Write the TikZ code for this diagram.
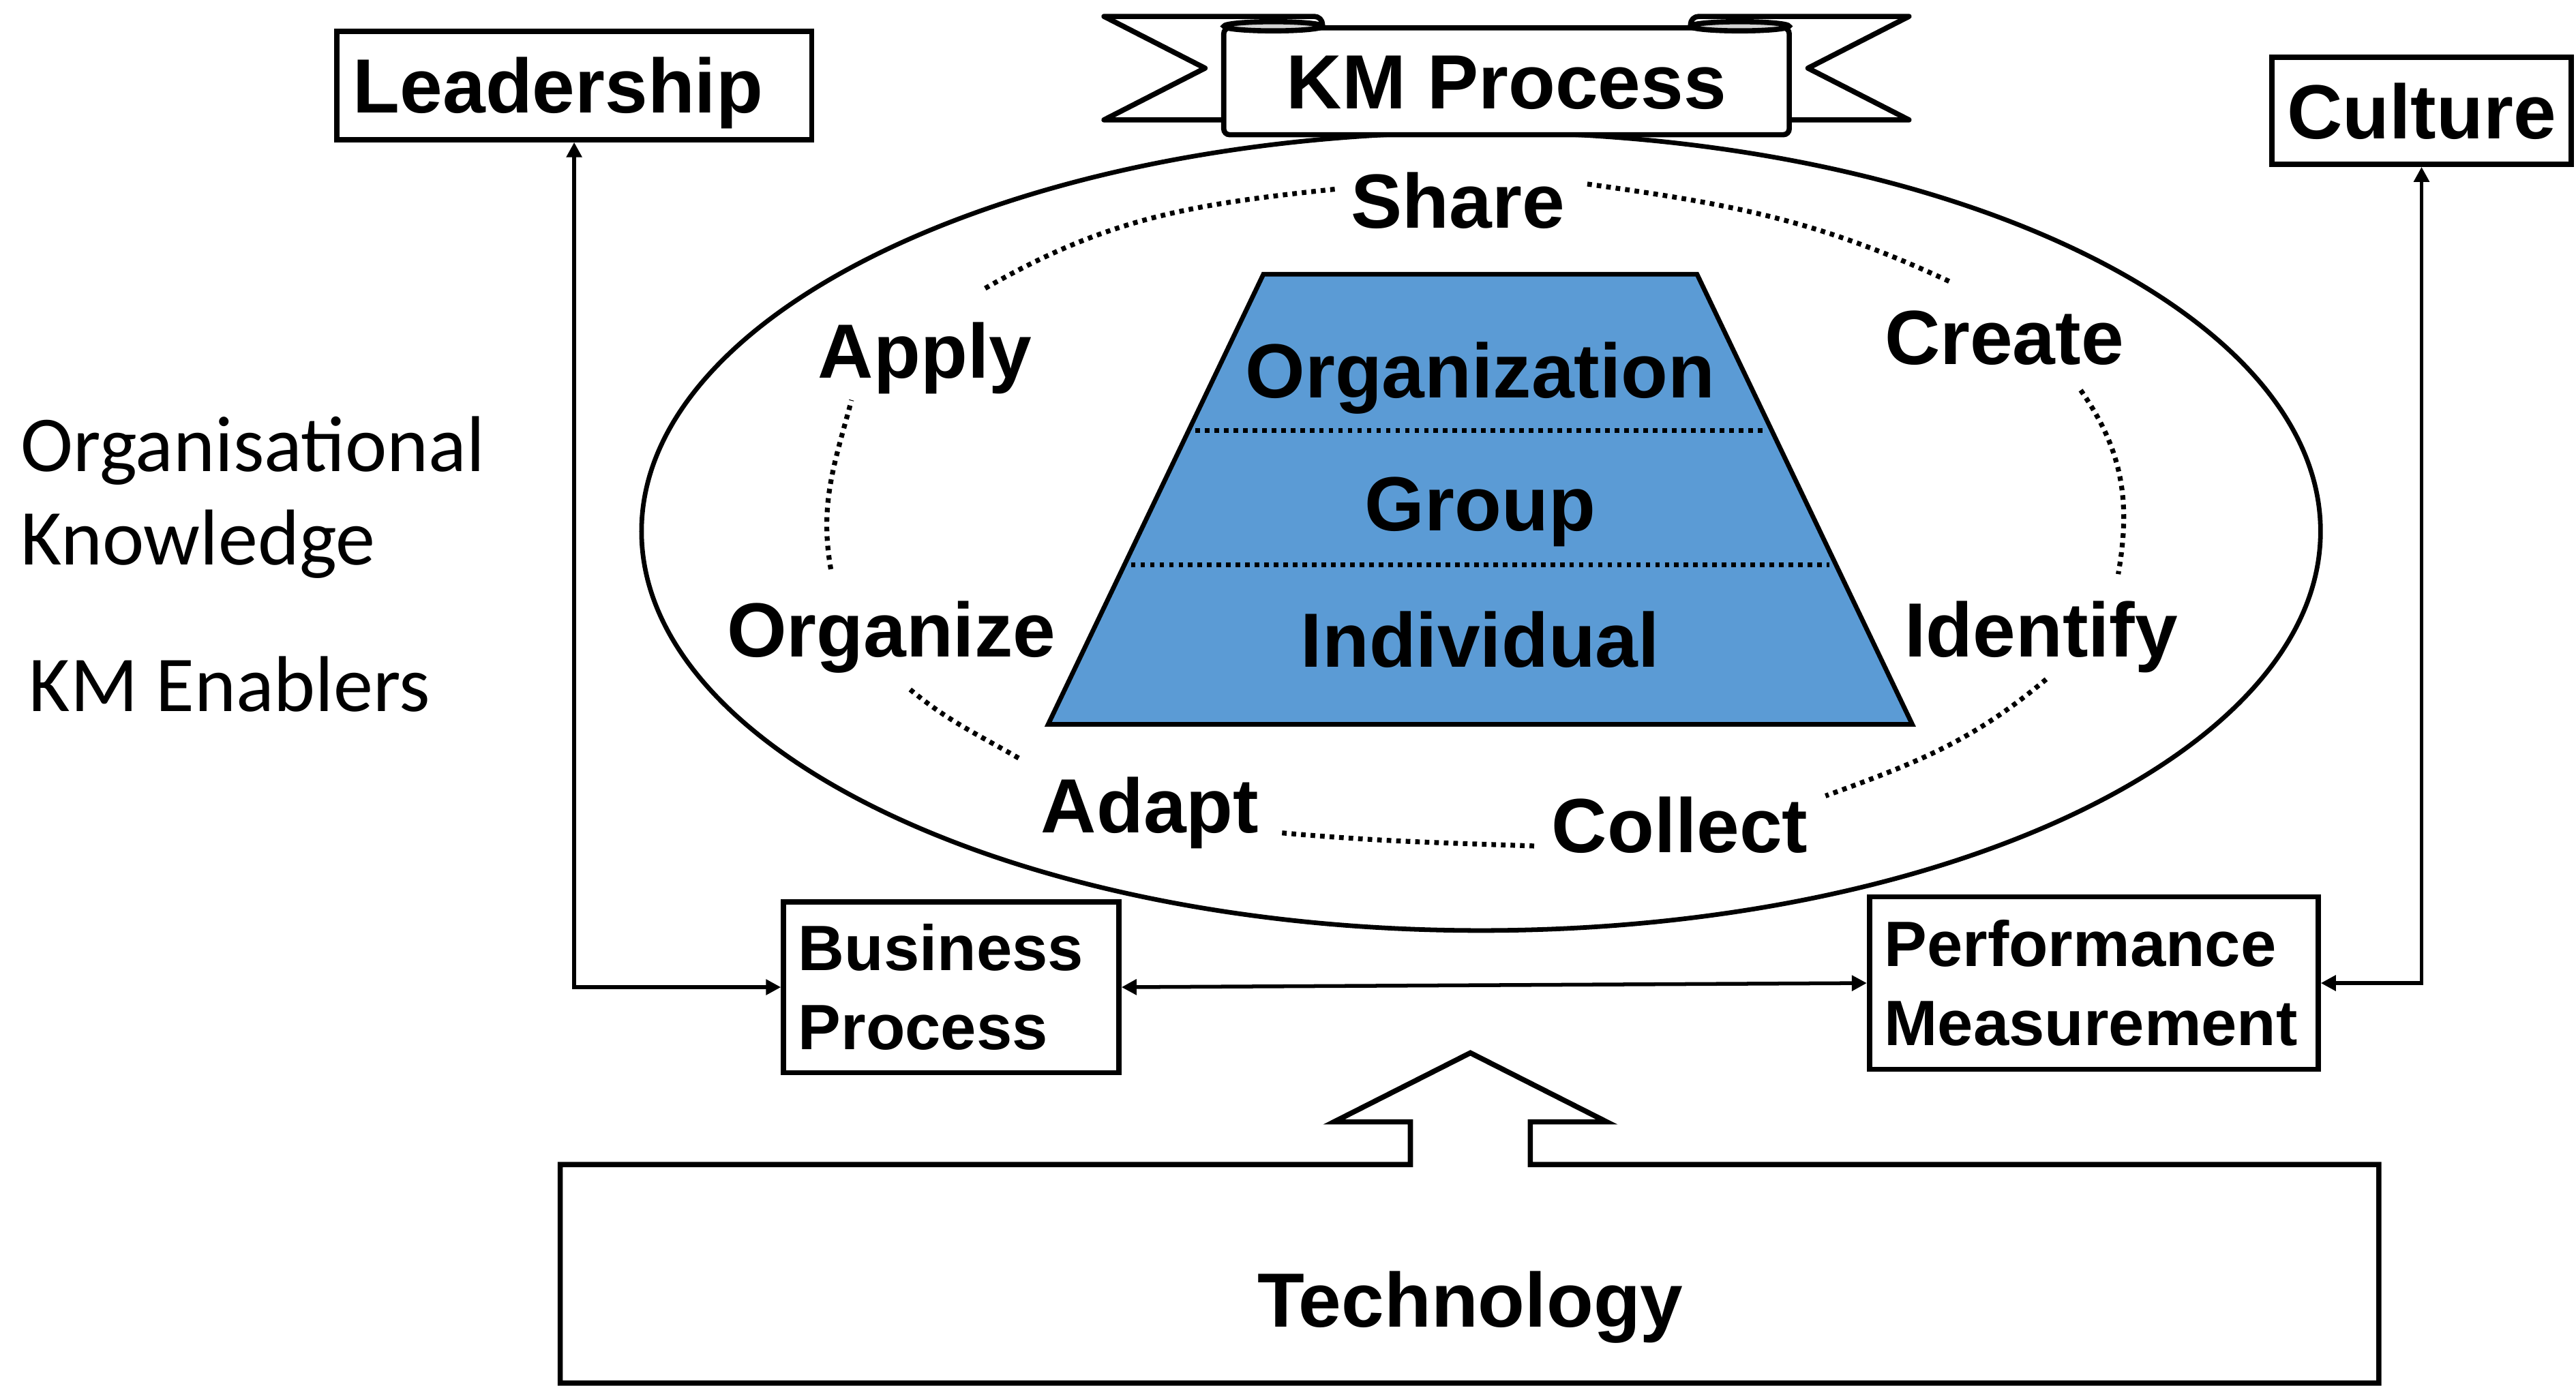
\documentclass[tikz,border=0pt]{standalone}
\usepackage{fontspec}
\setmainfont{Liberation Sans}
\newfontfamily\calibri{Carlito}
\usetikzlibrary{arrows.meta,calc}
\definecolor{kmblue}{HTML}{5B9BD5}
\tikzset{
  box/.style={draw, line width=0.9pt, fill=white, inner sep=0pt,
    font=\fontsize{13.3}{16}\selectfont\bfseries, text height=9.6pt, text depth=0pt},
  subbox/.style={draw, line width=0.9pt, inner xsep=0.09cm, inner ysep=0pt, align=left,
    font=\fontsize{11.1}{13.66}\selectfont\bfseries},
  stage/.style={inner sep=0pt, anchor=base, text height=9.6pt, text depth=2.8pt,
    font=\fontsize{13.3}{16}\selectfont\bfseries},
  note/.style={inner sep=0pt, align=left, font=\calibri\fontsize{13.7}{16.2}\selectfont},
  ring/.style={line width=0.85pt, dash pattern=on 0.8pt off 0.85pt},
  link/.style={line width=0.65pt, >={Triangle[length=2.6pt,width=2.6pt]}, <->}
}
\begin{document}
\begin{tikzpicture}[x=0.01cm,y=0.01cm]
  \path[use as bounding box] (0,0) rectangle (1568,845);

  \node[note, anchor=base west] (orgknow) at (12,501) {Organisational\\Knowledge};
  \node[note, anchor=base west] (enablers) at (17,412) {KM Enablers};

  % knowledge cycle
  \draw[line width=0.8pt] (901.5,521.5) ellipse [x radius=511, y radius=243];
  \coordinate (tl) at (769,678);
  \coordinate (tr) at (1033,678);
  \coordinate (br) at (1164,404);
  \coordinate (bl) at (638,404);
  \draw[line width=0.8pt, fill=kmblue] (tl) -- (tr) -- (br) -- (bl) -- cycle;
  \draw[ring] ($(bl)!0.653!(tl)+(4,0)$) -- ($(br)!0.653!(tr)-(4,0)$);
  \draw[ring] ($(bl)!0.354!(tl)+(4,0)$) -- ($(br)!0.354!(tr)-(4,0)$);
  \node[stage] (orglayer) at (901,603) {Organization};
  \node[stage] (grouplayer) at (901,522) {Group};
  \node[stage] (indlayer) at (901,439) {Individual};

  \node[stage] (share) at (887.5,706) {Share};
  \node[stage] (create) at (1220,623) {Create};
  \node[stage] (identify) at (1242.5,445) {Identify};
  \node[stage] (collect) at (1022.5,326) {Collect};
  \node[stage] (adapt) at (700,338) {Adapt};
  \node[stage] (organize) at (542.5,445) {Organize};
  \node[stage] (apply) at (563,615) {Apply};
  \draw[ring] ([shift={(-29,20)}]apply.north east) to[out=30,in=186] ([shift={(-8,12)}]share.west);
  \draw[ring] ([shift={(13,15)}]share.east) to[out=-8,in=155] ([shift={(-33,16)}]create.north);
  \draw[ring] ([shift={(-27,-5)}]create.south east) to[out=-55,in=80] ([shift={(-37,16)}]identify.north east);
  \draw[ring] ([shift={(3,-3)}]identify.south) to[out=-140,in=20] ([shift={(10,0)}]collect.north east);
  \draw[ring] ([shift={(-10,-8)}]collect.west) to[out=178,in=-5] ([shift={(13,-12)}]adapt.east);
  \draw[ring] ([shift={(-13,11)}]adapt.north west) to[out=150,in=-40] ([shift={(10,-8)}]organize.south);
  \draw[ring] ([shift={(64,19)}]organize.north west) to[out=100,in=-105] ([shift={(21,-3)}]apply.south west);

  % banner
  \draw[line width=0.9pt, fill=white, line join=round] (745,772) -- (672,772) -- (733.5,803.5)
    -- (672,835) -- (800,835) to[out=0,in=90] (805,830) -- (805,826);
  \draw[line width=0.9pt, fill=white, line join=round] (1089,772) -- (1162,772) -- (1100.5,803.5)
    -- (1162,835) -- (1034,835) to[out=180,in=90] (1029,830) -- (1029,826);
  \node[box, minimum width=3.44cm, minimum height=0.65cm, rounded corners=1pt] (kmp) at (917,795.5) {KM Process};
  \draw[line width=0.9pt, fill=gray!35] (775,829) ellipse [x radius=30, y radius=2.8];
  \draw[line width=0.9pt, fill=gray!35] (1059,829) ellipse [x radius=30, y radius=2.8];

  % enablers
  \node[box, minimum width=2.89cm, minimum height=0.66cm, text width=2.69cm, align=left] (lead) at (349.5,793) {Leadership};
  \node[box, minimum width=1.82cm, minimum height=0.65cm] (culture) at (1474,777.5) {Culture};
  \node[subbox, text width=1.86cm, minimum height=1.04cm] (bp) at (579,244) {Business\\Process};
  \node[subbox, text width=2.55cm, minimum height=1.05cm] (pm) at (1274.5,246.5) {Performance\\Measurement};
  \draw[link] (lead.south) |- (bp.west);
  \draw[link] (bp.east) -- (pm.west);
  \draw[link] (culture.south) |- (pm.east);

  \draw[line width=0.9pt] (341,3) -- (341,136) -- (858.5,136) -- (858.5,162) -- (812,162)
    -- (895,204) -- (978,162) -- (931.5,162) -- (931.5,136) -- (1448,136) -- (1448,3) -- cycle;
  \node[stage] (tech) at (895,37) {Technology};
\end{tikzpicture}
\end{document}
